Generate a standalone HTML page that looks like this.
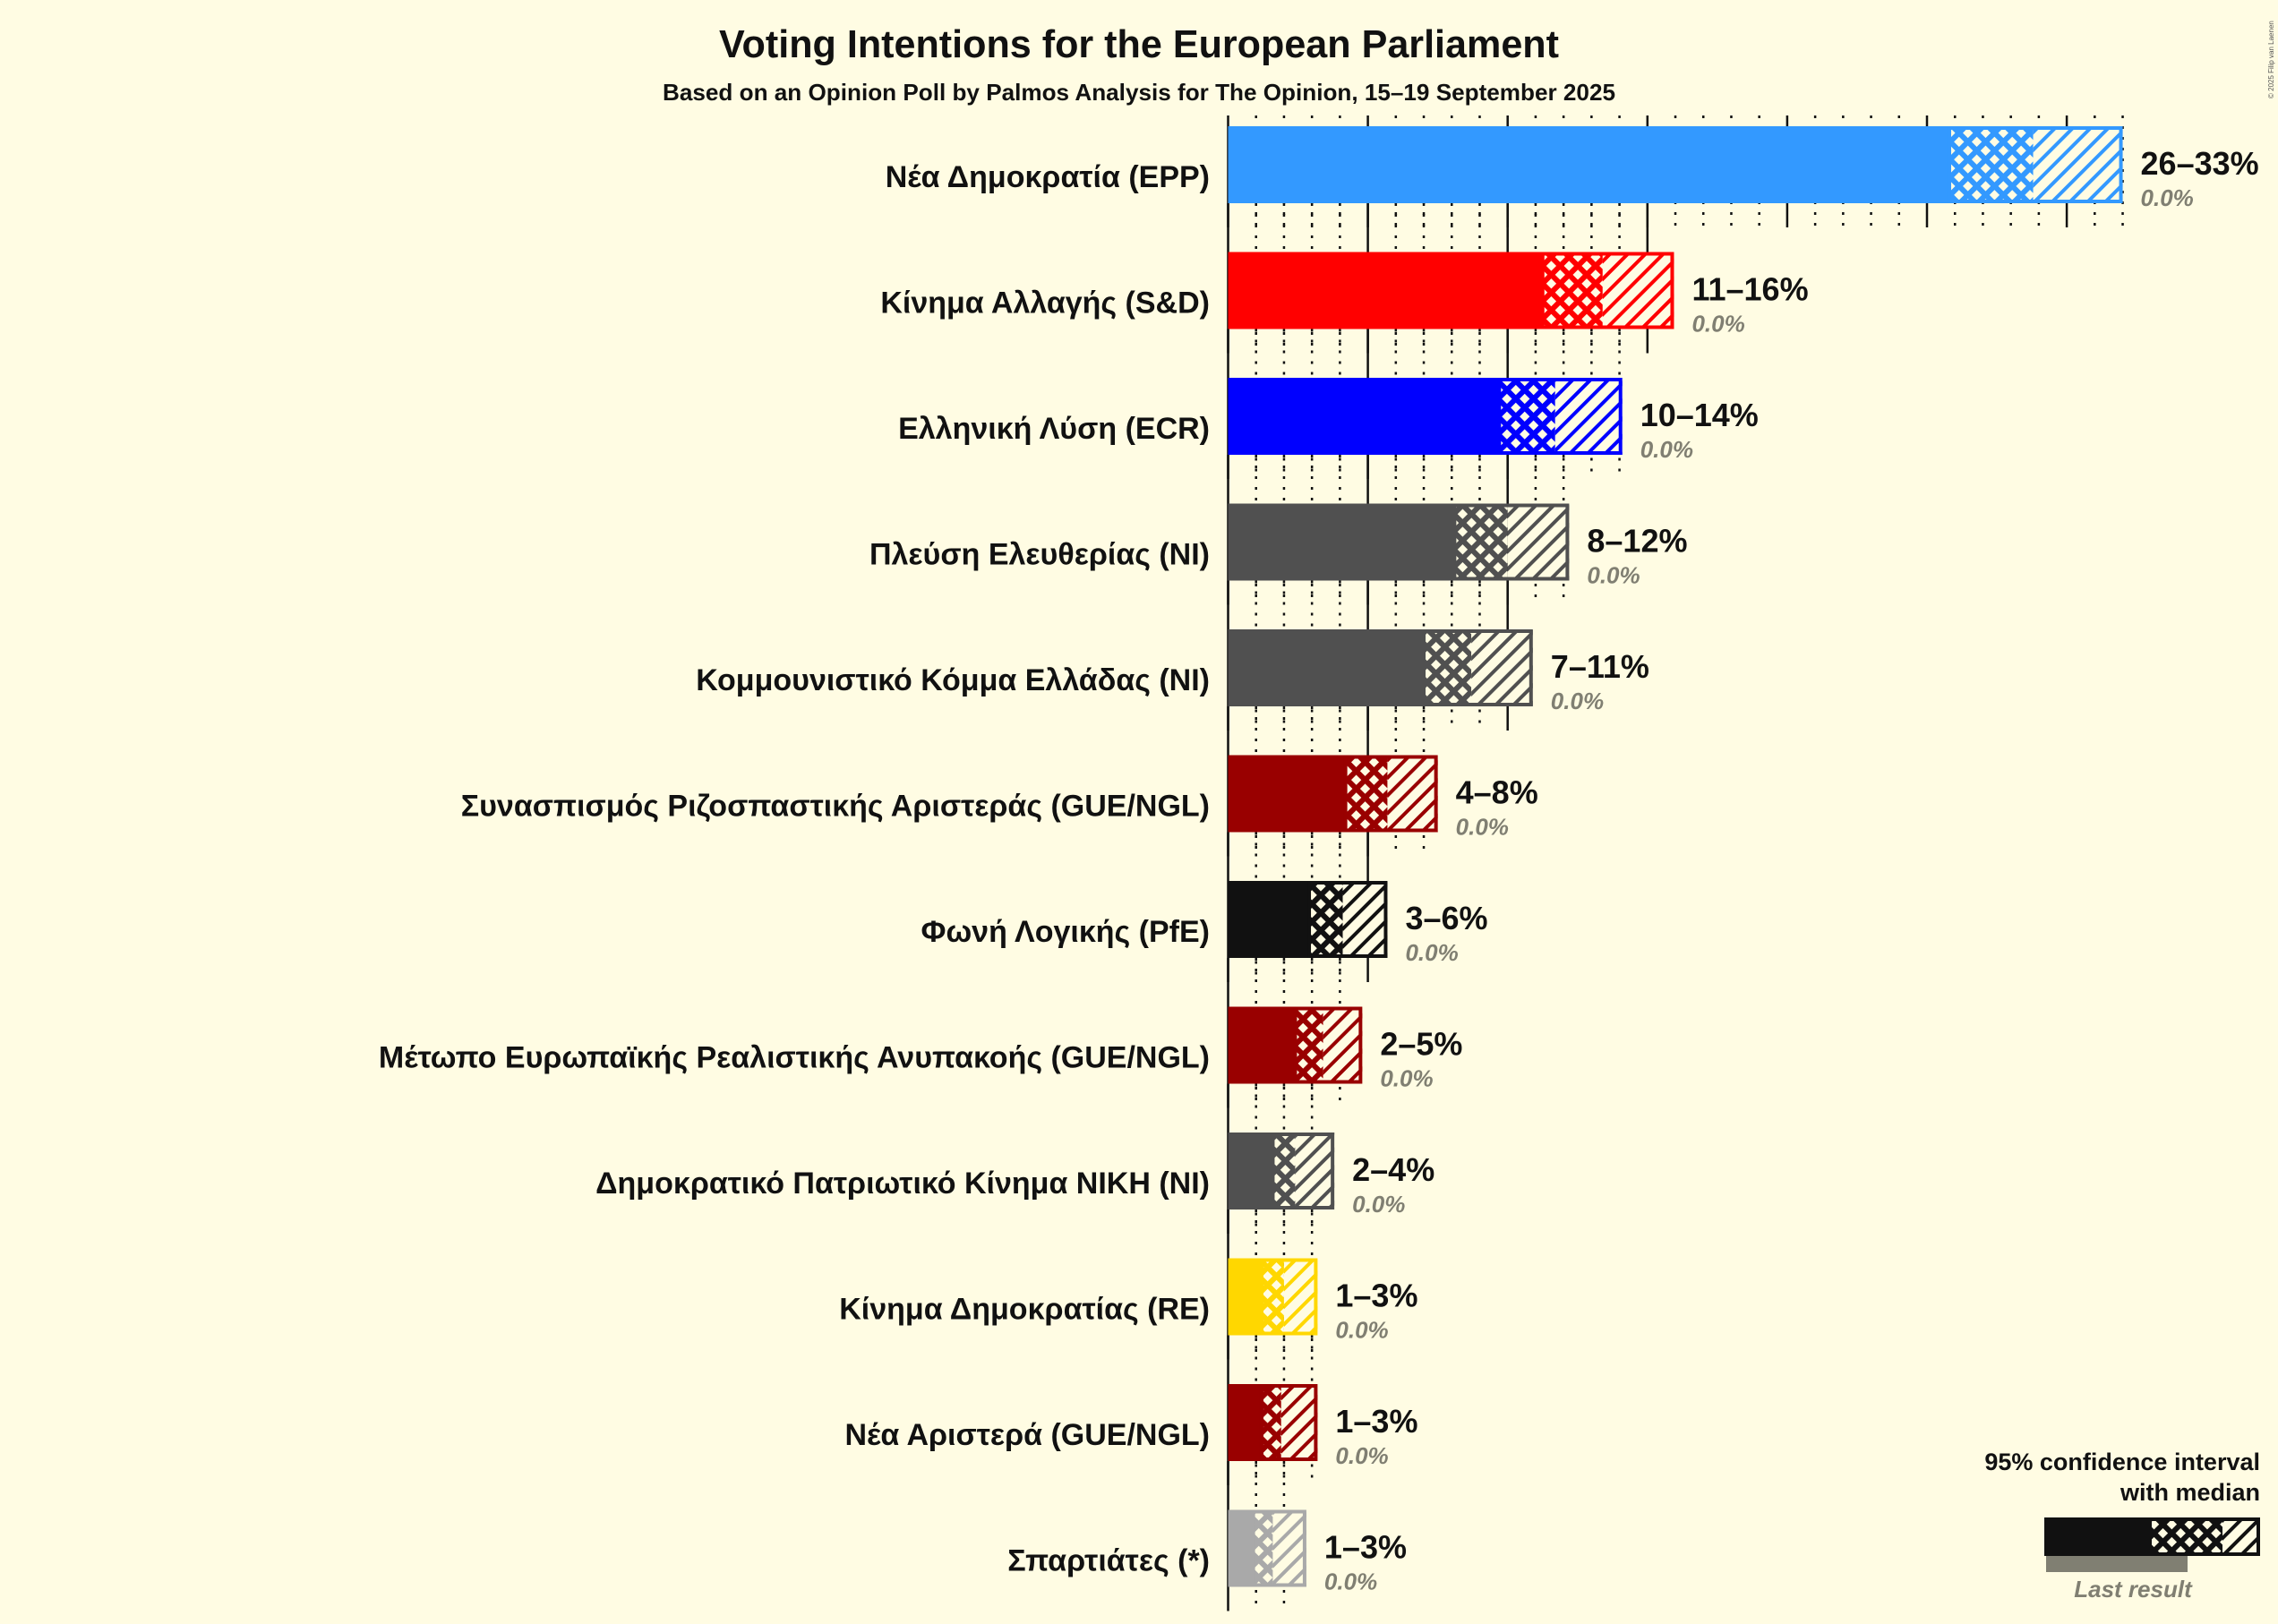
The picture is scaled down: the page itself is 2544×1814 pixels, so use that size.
<!DOCTYPE html>
<html><head><meta charset="utf-8"><style>
html,body{margin:0;padding:0;background:#FFFCE3;}
svg{display:block;font-family:"Liberation Sans",sans-serif;}
</style></head><body>
<svg id="chart" width="2544" height="1814" viewBox="0 0 2544 1814" xmlns="http://www.w3.org/2000/svg">
<rect x="0" y="0" width="2544" height="1814" fill="#FFFCE3"/>
<defs id="defs"></defs>
<text x="1272" y="64" text-anchor="middle" font-size="44" font-weight="bold" fill="#111" textLength="938" lengthAdjust="spacingAndGlyphs">Voting Intentions for the European Parliament</text>
<text x="1272" y="112" text-anchor="middle" font-size="26" font-weight="bold" fill="#111" textLength="1064" lengthAdjust="spacingAndGlyphs">Based on an Opinion Poll by Palmos Analysis for The Opinion, 15–19 September 2025</text>
<text transform="translate(2539,110) rotate(-90)" font-size="8" fill="#555">© 2025 Filip van Laenen</text>
<g id="grid"></g>
<g id="bars"></g>
<g id="labels"></g>
<g>
<text x="2524" y="1642" text-anchor="end" font-size="27" font-weight="bold" fill="#111">95% confidence interval</text>
<text x="2524" y="1676" text-anchor="end" font-size="27" font-weight="bold" fill="#111">with median</text>
<rect x="2283" y="1695" width="118" height="43" fill="#111"/>
<rect x="2401" y="1695" width="81" height="43" fill="url(#cross-legend)"/>
<rect x="2482" y="1695" width="42" height="43" fill="url(#hatch-legend)"/>
<rect x="2401" y="1697" width="121" height="39" fill="none" stroke="#111" stroke-width="4"/>
<rect x="2285" y="1738" width="158" height="18" fill="#807F72"/>
<text x="2382" y="1784" text-anchor="middle" font-size="26" font-style="italic" font-weight="bold" fill="#807F72">Last result</text>
</g>
</svg>
<script>
const parties = ["Νέα Δημοκρατία (EPP)","Κίνημα Αλλαγής (S&D)","Ελληνική Λύση (ECR)","Πλεύση Ελευθερίας (NI)","Κομμουνιστικό Κόμμα Ελλάδας (NI)","Συνασπισμός Ριζοσπαστικής Αριστεράς (GUE/NGL)","Φωνή Λογικής (PfE)","Μέτωπο Ευρωπαϊκής Ρεαλιστικής Ανυπακοής (GUE/NGL)","Δημοκρατικό Πατριωτικό Κίνημα ΝΙΚΗ (NI)","Κίνημα Δημοκρατίας (RE)","Νέα Αριστερά (GUE/NGL)","Σπαρτιάτες (*)"];
const lowerCI = [25.8,11.25,9.7,8.1,7.0,4.2,2.9,2.4,1.6,1.2,1.2,0.9];
const medians = [28.8,13.4,11.7,10.0,8.7,5.7,4.1,3.4,2.4,2.0,1.9,1.6];
const upperCI = [32.0,15.95,14.1,12.2,10.9,7.5,5.7,4.8,3.8,3.2,3.2,2.8];
const rangeLabels = ["26–33%","11–16%","10–14%","8–12%","7–11%","4–8%","3–6%","2–5%","2–4%","1–3%","1–3%","1–3%"];
const lastResults = ["0.0%","0.0%","0.0%","0.0%","0.0%","0.0%","0.0%","0.0%","0.0%","0.0%","0.0%","0.0%"];
const colors = ["#3399FF","#FF0000","#0000FF","#505050","#505050","#990000","#111111","#990000","#505050","#FFD700","#990000","#A9A9A9"];

const NS="http://www.w3.org/2000/svg";
const X0=1371.5, PX=31.22, Y0=141, PITCH=140.5, BH=86;
const xs=v=>X0+v*PX;
const ys=i=>Y0+i*PITCH;
function mk(tag,attrs,parent){const e=document.createElementNS(NS,tag);for(const k in attrs)e.setAttribute(k,attrs[k]);parent.appendChild(e);return e;}
const defs=document.getElementById('defs');
function addPatterns(id,c){
  const p1=mk('pattern',{id:'cross-'+id,patternUnits:'userSpaceOnUse',width:14,height:14,patternTransform:'rotate(45)'},defs);
  mk('rect',{width:14,height:14,fill:c},p1);
  mk('rect',{x:3,y:3,width:8,height:8,fill:'#FFFCE3'},p1);
  const p2=mk('pattern',{id:'hatch-'+id,patternUnits:'userSpaceOnUse',width:14,height:14,patternTransform:'rotate(45)'},defs);
  mk('rect',{width:14,height:14,fill:'#FFFCE3'},p2);
  mk('rect',{x:0,y:0,width:4,height:14,fill:c},p2);
}
addPatterns('legend','#111');
const grid=document.getElementById('grid'), bars=document.getElementById('bars'), labels=document.getElementById('labels');
parties.forEach((name,i)=>{
  const y=ys(i), c=colors[i];
  addPatterns('p'+i,c);
  const maxT=Math.floor(upperCI[i]);
  const top = i===0 ? y-12 : y-PITCH+BH;
  const bot = y+BH+27;
  for(let t=0;t<=maxT;t++){
    const g=mk('line',{x1:xs(t),x2:xs(t),y1:top,y2:bot,stroke:'#111','stroke-width':2.5,'stroke-dasharray':t%5===0?'none':'3 9'},grid);
    
    
  }
  const r1=mk('rect',{x:xs(0),y:y,width:xs(lowerCI[i])-xs(0),height:BH,fill:c},bars);
  
  
  const r2=mk('rect',{x:xs(lowerCI[i]),y:y,width:xs(medians[i])-xs(lowerCI[i]),height:BH,fill:'url(#cross-p'+i+')'},bars);
  
  
  const r3=mk('rect',{x:xs(medians[i]),y:y,width:xs(upperCI[i])-xs(medians[i]),height:BH,fill:'url(#hatch-p'+i+')'},bars);
  
  
  const r4=mk('rect',{x:xs(lowerCI[i]),y:y+2,width:xs(upperCI[i])-xs(lowerCI[i])-2,height:BH-4,fill:'none',stroke:c,'stroke-width':4},bars);
  
  
  const l=mk('text',{x:1351,y:y+BH/2+25,'text-anchor':'end','font-size':34,'font-weight':'bold',fill:'#111'},labels);
  l.textContent=name;
  
  
  const rl=mk('text',{x:xs(upperCI[i])+20,y:y+BH/2+11,'font-size':36,'font-weight':'bold',fill:'#111'},labels);
  rl.textContent=rangeLabels[i];
  
  
  const lr=mk('text',{x:xs(upperCI[i])+20,y:y+BH/2+46,'font-size':26,'font-style':'italic','font-weight':'bold',fill:'#807F72'},labels);
  lr.textContent=lastResults[i];
  
  
});
</script>
</body></html>
